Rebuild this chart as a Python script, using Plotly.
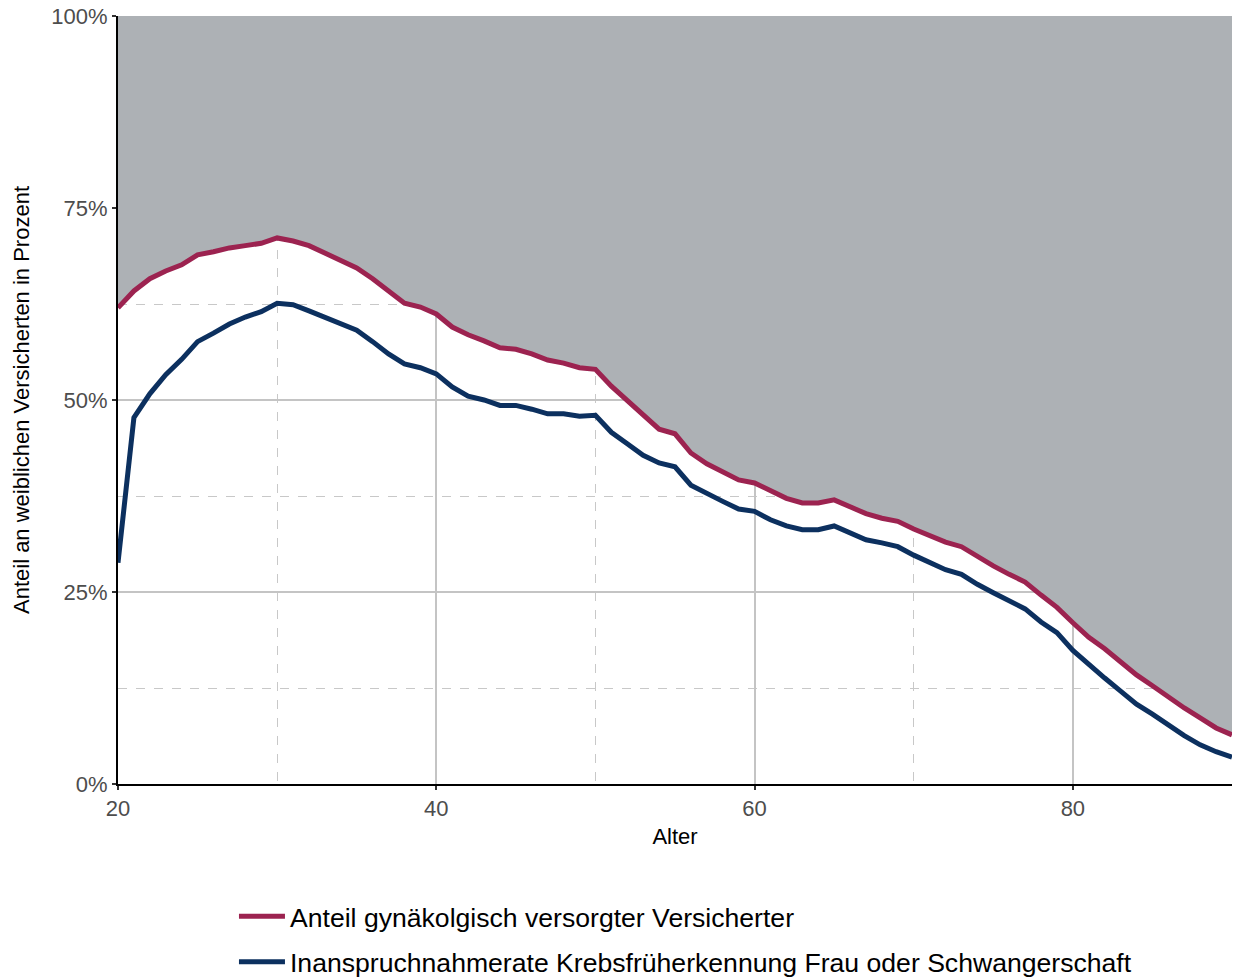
import plotly.graph_objects as go

ages = list(range(20, 91))
anteil_versorgt = [62.0, 64.2, 65.8, 66.8, 67.6, 68.9, 69.3, 69.8, 70.1, 70.4,
                   71.1, 70.7, 70.1, 69.1, 68.1, 67.2, 65.8, 64.1, 62.6, 62.1,
                   61.2, 59.5, 58.5, 57.7, 56.8, 56.6, 56.0, 55.2, 54.8, 54.2,
                   54.0, 51.8, 49.9, 47.9, 46.2, 45.6, 43.1, 41.7, 40.6, 39.6,
                   39.2, 38.2, 37.2, 36.6, 36.6, 37.0, 36.1, 35.2, 34.6, 34.2,
                   33.2, 32.4, 31.5, 30.9, 29.6, 28.4, 27.3, 26.3, 24.6, 23.0,
                   21.0, 19.1, 17.6, 15.9, 14.2, 12.8, 11.3, 9.9, 8.6, 7.3, 6.4]
inanspruchnahme = [28.8, 47.7, 50.8, 53.3, 55.3, 57.6, 58.7, 59.9, 60.8, 61.5,
                   62.6, 62.4, 61.6, 60.8, 59.9, 59.1, 57.6, 56.0, 54.7, 54.2,
                   53.4, 51.7, 50.5, 50.0, 49.3, 49.3, 48.8, 48.2, 48.2, 47.9,
                   48.0, 45.8, 44.3, 42.8, 41.8, 41.3, 38.9, 37.8, 36.8, 35.8,
                   35.5, 34.4, 33.6, 33.1, 33.1, 33.6, 32.7, 31.8, 31.4, 30.9,
                   29.8, 28.9, 27.9, 27.3, 26.0, 24.9, 23.8, 22.8, 21.1, 19.7,
                   17.4, 15.5, 13.8, 12.1, 10.4, 9.1, 7.7, 6.3, 5.1, 4.2, 3.5]
obergrenze = [100] * len(ages)

y_ticks = [0, 25, 50, 75, 100]
y_ticklabels = ["0%", "25%", "50%", "75%", "100%"]
x_ticks = [20, 40, 60, 80]

name_red = "Anteil gynäkolgisch versorgter Versicherter"
name_blue = "Inanspruchnahmerate Krebsfrüherkennung Frau oder Schwangerschaft"

RED = "#9c2350"
BLUE = "#0c305f"
GREY_FILL = "#adb1b5"

fig = go.Figure()
# grey area between the red line and 100 %
fig.add_trace(go.Scatter(x=ages, y=obergrenze, mode="lines",
                         line=dict(width=0, color=GREY_FILL),
                         showlegend=False, hoverinfo="skip"))
fig.add_trace(go.Scatter(x=ages, y=anteil_versorgt, mode="lines",
                         line=dict(width=0, color=GREY_FILL),
                         fill="tonexty", fillcolor=GREY_FILL,
                         showlegend=False, hoverinfo="skip"))
fig.add_trace(go.Scatter(x=ages, y=anteil_versorgt, mode="lines", name=name_red,
                         legendgroup="a", legendrank=1,
                         line=dict(color=RED, width=5)))
fig.add_trace(go.Scatter(x=ages, y=inanspruchnahme, mode="lines", name=name_blue,
                         legendgroup="b", legendrank=2,
                         line=dict(color=BLUE, width=5)))

font_family = "Liberation Sans, Arial, sans-serif"
fig.update_layout(
    width=1236, height=979,
    margin=dict(l=118, r=4, t=16, b=195),
    plot_bgcolor="white", paper_bgcolor="white",
    font=dict(family=font_family, size=22, color="black"),
    legend=dict(x=0.1041, y=0.0884, xref="paper", yref="container",
                xanchor="left", yanchor="top",
                orientation="v", font=dict(size=26.6, color="black"),
                traceorder="grouped", tracegroupgap=8, itemwidth=46),
)
fig.update_xaxes(
    range=[20, 90], tickvals=x_ticks, automargin=False,
    showline=True, linecolor="black", linewidth=2,
    ticks="outside", ticklen=4, tickcolor="#333333", tickwidth=2,
    tickfont=dict(size=22, color="#4d4d4d"),
    showgrid=True, gridcolor="#c4c4c4", gridwidth=2,
    minor=dict(tickvals=[30, 50, 70], showgrid=True, gridcolor="#c8c8c8",
               griddash="dash", gridwidth=1, ticks=""),
    title=dict(text="Alter", font=dict(size=22, color="black"), standoff=8),
    zeroline=False,
)
fig.update_yaxes(
    range=[0, 100], tickvals=y_ticks, ticktext=y_ticklabels, automargin=False,
    showline=True, linecolor="black", linewidth=2,
    ticks="outside", ticklen=4, tickcolor="#333333", tickwidth=2,
    tickfont=dict(size=22, color="#4d4d4d"),
    showgrid=True, gridcolor="#c4c4c4", gridwidth=2,
    minor=dict(tickvals=[12.5, 37.5, 62.5], showgrid=True, gridcolor="#c8c8c8",
               griddash="dash", gridwidth=1, ticks=""),
    title=dict(text="Anteil an weiblichen Versicherten in Prozent",
               font=dict(size=22, color="black"), standoff=16),
    zeroline=False,
)

fig.write_html(
    "out.html",
    config={"displayModeBar": False},
    post_script=(
        "document.documentElement.style.margin='0';"
        "document.documentElement.style.overflow='hidden';"
        "document.body.style.margin='0';"
        "document.body.style.overflow='hidden';"
    ),
)
